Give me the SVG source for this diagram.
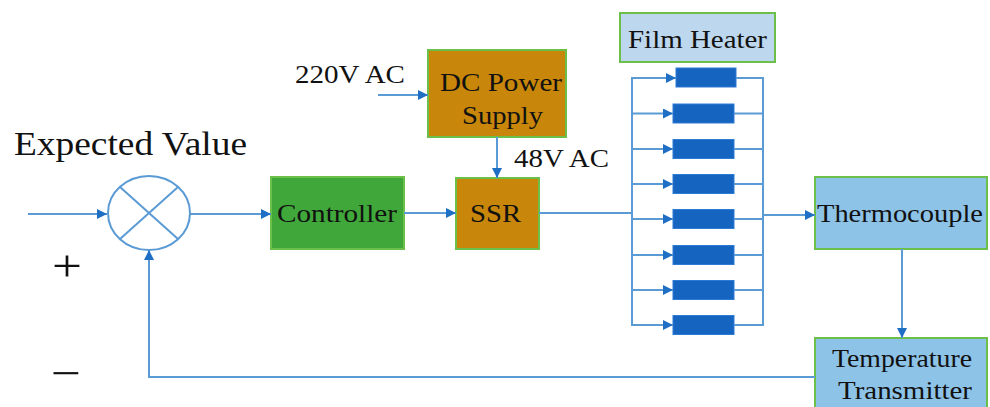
<svg xmlns="http://www.w3.org/2000/svg" width="990" height="407" viewBox="0 0 990 407">
<defs>
<marker id="ah" viewBox="0 0 10 10" refX="10" refY="5" markerWidth="10" markerHeight="10" markerUnits="userSpaceOnUse" orient="auto">
<path d="M0,0 L10,5 L0,10 z" fill="#1F6FC5"/>
</marker>
<style>
text{font-family:"Liberation Serif","Times New Roman",serif;fill:#111}
.c{fill:none;stroke:#5B9BD5;stroke-width:2}
.box{stroke:#6CC04A;stroke-width:2}
.h{fill:#1565C0;stroke:#2E7BD6;stroke-width:1}
</style>
</defs>
<rect width="990" height="407" fill="#fff"/>
<text x="14" y="155" font-size="33" textLength="233" lengthAdjust="spacingAndGlyphs">Expected Value</text>
<text x="52" y="281" font-size="44" textLength="30" lengthAdjust="spacingAndGlyphs">+</text>
<text x="51" y="388" font-size="44" textLength="30" lengthAdjust="spacingAndGlyphs">−</text>
<g id="sum">
<ellipse cx="149" cy="213" rx="41" ry="37" fill="none" stroke="#5B9BD5" stroke-width="2"/>
<line x1="120" y1="187" x2="178" y2="239" stroke="#5B9BD5" stroke-width="2"/>
<line x1="178" y1="187" x2="120" y2="239" stroke="#5B9BD5" stroke-width="2"/>
</g>
<g id="controller">
<rect class="box" x="271" y="177" width="133" height="72" fill="#40A83A"/>
<text x="277" y="222" font-size="26" textLength="120" lengthAdjust="spacingAndGlyphs">Controller</text>
</g>
<g id="dcpower">
<rect class="box" x="428" y="50" width="138" height="87" fill="#C8860A"/>
<text x="440" y="91" font-size="26" textLength="122" lengthAdjust="spacingAndGlyphs">DC Power</text>
<text x="462" y="124" font-size="26" textLength="81" lengthAdjust="spacingAndGlyphs">Supply</text>
</g>
<text x="295" y="83" font-size="26" textLength="110" lengthAdjust="spacingAndGlyphs">220V AC</text>
<text x="514" y="167" font-size="26" textLength="95" lengthAdjust="spacingAndGlyphs">48V AC</text>
<g id="ssr">
<rect class="box" x="456" y="178" width="83" height="71" fill="#C8860A"/>
<text x="470" y="222" font-size="26" textLength="51" lengthAdjust="spacingAndGlyphs">SSR</text>
</g>
<g id="filmheater">
<rect class="box" x="620" y="13" width="155" height="49" fill="#BDD7EE"/>
<text x="628" y="48" font-size="25" textLength="139" lengthAdjust="spacingAndGlyphs">Film Heater</text>
<rect class="h" x="676" y="68" width="60" height="19"/>
<rect class="h" x="673" y="104" width="61" height="19"/>
<rect class="h" x="673" y="139.5" width="61" height="19"/>
<rect class="h" x="673" y="174.5" width="61" height="19"/>
<rect class="h" x="673" y="209.5" width="61" height="19"/>
<rect class="h" x="673" y="245.5" width="61" height="19"/>
<rect class="h" x="673" y="280.5" width="61" height="19"/>
<rect class="h" x="673" y="315.5" width="61" height="19"/>
</g>
<g id="thermocouple">
<rect class="box" x="815" y="177" width="172" height="72" fill="#8EC3E8"/>
<text x="817" y="222" font-size="26" textLength="166" lengthAdjust="spacingAndGlyphs">Thermocouple</text>
</g>
<g id="transmitter">
<rect class="box" x="815" y="338" width="172" height="75" fill="#8EC3E8"/>
<text x="832" y="367" font-size="26" textLength="140" lengthAdjust="spacingAndGlyphs">Temperature</text>
<text x="838" y="399" font-size="26" textLength="134" lengthAdjust="spacingAndGlyphs">Transmitter</text>
</g>
<g id="connectors">
<line class="c" x1="28" y1="214" x2="107" y2="214" marker-end="url(#ah)"/>
<line class="c" x1="190" y1="214" x2="271" y2="214" marker-end="url(#ah)"/>
<line class="c" x1="404" y1="213" x2="456" y2="213" marker-end="url(#ah)"/>
<line class="c" x1="378" y1="95" x2="428" y2="95" marker-end="url(#ah)"/>
<line class="c" x1="497" y1="137" x2="497" y2="178" marker-end="url(#ah)"/>
<line class="c" x1="539" y1="213" x2="632" y2="213"/>
<path class="c" d="M637,78 H632 V325 H637"/>
<line class="c" x1="632" y1="78" x2="676" y2="78" marker-end="url(#ah)"/>
<line class="c" x1="632" y1="113.5" x2="673" y2="113.5" marker-end="url(#ah)"/>
<line class="c" x1="632" y1="149" x2="673" y2="149" marker-end="url(#ah)"/>
<line class="c" x1="632" y1="184" x2="673" y2="184" marker-end="url(#ah)"/>
<line class="c" x1="632" y1="219" x2="673" y2="219" marker-end="url(#ah)"/>
<line class="c" x1="632" y1="255" x2="673" y2="255" marker-end="url(#ah)"/>
<line class="c" x1="632" y1="290" x2="673" y2="290" marker-end="url(#ah)"/>
<line class="c" x1="632" y1="325" x2="673" y2="325" marker-end="url(#ah)"/>
<path class="c" d="M736,78 H763 V325 H734"/>
<line class="c" x1="734" y1="113.5" x2="763" y2="113.5"/>
<line class="c" x1="734" y1="149" x2="763" y2="149"/>
<line class="c" x1="734" y1="184" x2="763" y2="184"/>
<line class="c" x1="734" y1="219" x2="763" y2="219"/>
<line class="c" x1="734" y1="255" x2="763" y2="255"/>
<line class="c" x1="734" y1="290" x2="763" y2="290"/>
<line class="c" x1="763" y1="215" x2="815" y2="215" marker-end="url(#ah)"/>
<line class="c" x1="902" y1="249" x2="902" y2="338" marker-end="url(#ah)"/>
<path class="c" d="M815,377 H149 V250" marker-end="url(#ah)"/>
</g>
</svg>
